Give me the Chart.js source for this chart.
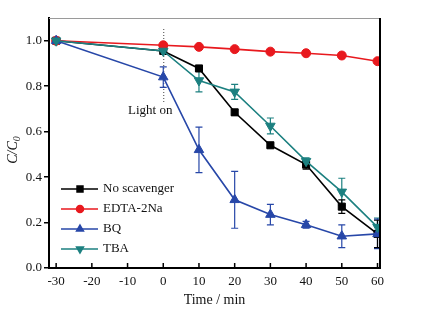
<!DOCTYPE html>
<html>
<head>
<meta charset="utf-8">
<script src="https://cdn.jsdelivr.net/npm/chart.js@4/dist/chart.umd.min.js"></script>
<style>
  html, body { margin: 0; padding: 0; background: #fff; }
  #wrap { width: 421px; height: 311px; position: relative; }
</style>
</head>
<body>
<div id="wrap"><canvas id="c"></canvas></div>
<script>
const times = [-30, 0, 10, 20, 30, 40, 50, 60];
const xTicks = [-30, -20, -10, 0, 10, 20, 30, 40, 50, 60];
const yTicks = [0, 0.2, 0.4, 0.6, 0.8, 1.0];

const noScavenger = [1.0, 0.955, 0.878, 0.685, 0.54, 0.455, 0.27, 0.15];
const noScavengerErr = [0, 0, 0.012, 0.012, 0.01, 0.02, 0.03, 0.06];
const edta = [1.0, 0.98, 0.973, 0.963, 0.952, 0.945, 0.935, 0.91];
const edtaErr = [0, 0, 0, 0, 0, 0, 0, 0];
const bq = [1.0, 0.84, 0.52, 0.30, 0.235, 0.19, 0.14, 0.15];
const bqErr = [0.01, 0.045, 0.10, 0.125, 0.045, 0.015, 0.05, 0.065];
const tba = [1.0, 0.955, 0.825, 0.775, 0.625, 0.47, 0.335, 0.18];
const tbaErr = [0, 0.01, 0.05, 0.033, 0.035, 0.015, 0.06, 0.04];

const serif = '"Liberation Serif", "Times New Roman", serif';

function series(label, values, errs, color, style, rot, radius, legendRadius) {
  return {
    label: label,
    data: times.map((t, i) => ({ x: t, y: values[i] })),
    errs: errs,
    legendRadius: legendRadius,
    borderColor: color,
    backgroundColor: color,
    borderWidth: 1.6,
    pointStyle: style,
    pointRotation: rot,
    pointRadius: radius,
    pointHoverRadius: radius,
    pointBorderWidth: 1,
    tension: 0
  };
}

const datasets = [
  series('TBA', tba, tbaErr, '#1c8080', 'triangle', 180, 5.5, 4),
  series('BQ', bq, bqErr, '#2747a8', 'triangle', 0, 5.5, 4),
  series('EDTA-2Na', edta, edtaErr, '#e8191e', 'circle', 0, 4.5, 3.5),
  series('No scavenger', noScavenger, noScavengerErr, '#000000', 'rect', 0, 5, 4.2)
];

const extras = {
  id: 'extras',
  beforeDatasetsDraw(chart) {
    const ctx = chart.ctx, xs = chart.scales.x, ys = chart.scales.y;
    ctx.save();
    // light on marker
    const x0 = xs.getPixelForValue(0);
    ctx.strokeStyle = '#444';
    ctx.lineWidth = 1;
    ctx.setLineDash([1, 2]);
    ctx.beginPath();
    ctx.moveTo(x0 + 0.5, 29);
    ctx.lineTo(x0 + 0.5, 103);
    ctx.stroke();
    ctx.setLineDash([]);
    ctx.fillStyle = '#111';
    ctx.font = '13px ' + serif;
    ctx.textAlign = 'center';
    ctx.textBaseline = 'middle';
    ctx.fillText('Light on', x0 - 13, 111);
    // error bars
    chart.data.datasets.forEach(ds => {
      ctx.strokeStyle = ds.borderColor;
      ctx.lineWidth = 1.2;
      ds.data.forEach((p, i) => {
        const e = ds.errs[i];
        if (!e) return;
        const px = xs.getPixelForValue(p.x);
        const top = ys.getPixelForValue(p.y + e);
        const bot = ys.getPixelForValue(p.y - e);
        ctx.beginPath();
        ctx.moveTo(px, top); ctx.lineTo(px, bot);
        ctx.moveTo(px - 3.5, top); ctx.lineTo(px + 3.5, top);
        ctx.moveTo(px - 3.5, bot); ctx.lineTo(px + 3.5, bot);
        ctx.stroke();
      });
    });
    ctx.restore();
  },
  afterDraw(chart) {
    const ctx = chart.ctx, a = chart.chartArea, xs = chart.scales.x;
    ctx.save();
    // frame
    ctx.strokeStyle = '#9a9a9a';
    ctx.lineWidth = 1;
    ctx.beginPath();
    ctx.moveTo(a.left, a.top + 0.5); ctx.lineTo(a.right, a.top + 0.5);
    ctx.stroke();
    ctx.strokeStyle = '#000';
    ctx.lineWidth = 2;
    ctx.beginPath();
    ctx.moveTo(a.right, a.top); ctx.lineTo(a.right, a.bottom);
    ctx.stroke();
    // inward x ticks
    ctx.lineWidth = 1.5;
    ctx.beginPath();
    xTicks.forEach(v => {
      const px = xs.getPixelForValue(v);
      ctx.moveTo(px, a.bottom); ctx.lineTo(px, a.bottom - 5);
    });
    ctx.stroke();
    // axis titles
    ctx.fillStyle = '#111';
    ctx.font = '14px ' + serif;
    ctx.textAlign = 'center';
    ctx.textBaseline = 'middle';
    ctx.fillText('Time / min', (a.left + a.right) / 2, 300);
    ctx.translate(13, 150);
    ctx.rotate(-Math.PI / 2);
    ctx.font = 'italic 14px ' + serif;
    ctx.textAlign = 'left';
    const w1 = ctx.measureText('C/C').width;
    ctx.font = 'italic 10px ' + serif;
    const w2 = ctx.measureText('0').width;
    const sx = -(w1 + w2) / 2;
    ctx.font = 'italic 14px ' + serif;
    ctx.fillText('C/C', sx, 0);
    ctx.font = 'italic 10px ' + serif;
    ctx.fillText('0', sx + w1, 4);
    ctx.restore();
    // legend
    ctx.save();
    const order = ['No scavenger', 'EDTA-2Na', 'BQ', 'TBA'];
    order.forEach((name, i) => {
      const ds = chart.data.datasets.find(d => d.label === name);
      const y = 189 + i * 20;
      ctx.strokeStyle = ds.borderColor;
      ctx.lineWidth = 1.5;
      ctx.beginPath();
      ctx.moveTo(61, y); ctx.lineTo(98, y);
      ctx.stroke();
      ctx.fillStyle = ds.borderColor;
      Chart.helpers.drawPoint(ctx, {
        pointStyle: ds.pointStyle, rotation: ds.pointRotation,
        radius: ds.legendRadius, borderWidth: 1
      }, 80, y);
      ctx.fillStyle = '#111';
      ctx.font = '13px ' + serif;
      ctx.textAlign = 'left';
      ctx.textBaseline = 'middle';
      ctx.fillText(name, 103, y);
    });
    ctx.restore();
  }
};

new Chart(document.getElementById('c'), {
  type: 'line',
  data: { datasets: datasets },
  options: {
    responsive: true,
    maintainAspectRatio: false,
    animation: false,
    layout: { padding: { left: 0, top: 18, right: 41, bottom: 0 } },
    plugins: { legend: { display: false }, tooltip: { enabled: false } },
    scales: {
      x: {
        type: 'linear',
        min: -32,
        max: 60.7,
        afterBuildTicks: s => { s.ticks = xTicks.map(v => ({ value: v })); },
        afterFit: s => { s.height = 43; },
        grid: { display: false, drawTicks: false },
        border: { display: true, color: '#000', width: 2 },
        ticks: { color: '#111', font: { family: serif, size: 13 }, padding: 6, maxRotation: 0 }
      },
      y: {
        min: 0,
        max: 1.1,
        afterBuildTicks: s => { s.ticks = yTicks.map(v => ({ value: v })); },
        afterFit: s => { s.width = 49; },
        grid: { drawOnChartArea: false, tickLength: 5, color: '#000', lineWidth: 1.5 },
        border: { display: true, color: '#000', width: 2 },
        ticks: { color: '#111', font: { family: serif, size: 13 }, padding: 2,
          callback: v => Number(v).toFixed(1) }
      }
    }
  },
  plugins: [extras]
});
</script>
</body>
</html>
